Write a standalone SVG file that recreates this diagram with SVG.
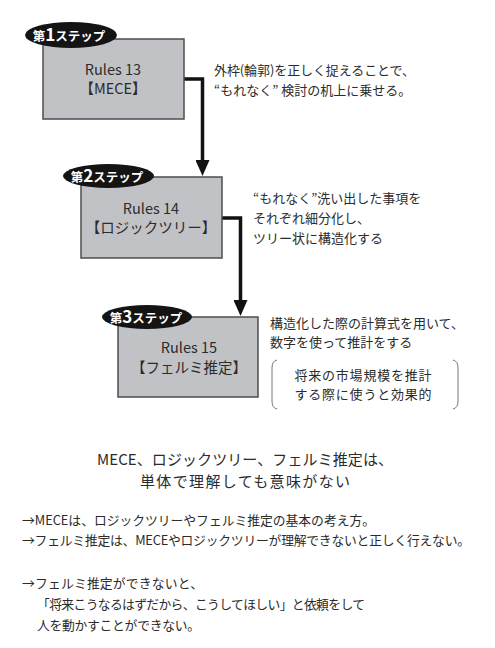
<svg xmlns="http://www.w3.org/2000/svg" width="495" height="648" viewBox="0 0 495 648">
<style>
text{font-family:"Noto Sans CJK JP","Noto Sans",sans-serif;fill:#2b2b2b}
.box{fill:#c1c2c6;stroke:#4d4d4d;stroke-width:1.5}
.badge{fill:#141414}
.bt{font-size:12.5px;fill:#fff;font-weight:bold}
.bn{font-size:17px;fill:#fff;font-weight:bold}
.nt{font-size:14.5px;text-anchor:middle}
.note{font-size:13px}
.pn{font-size:13px;text-anchor:middle}
.title{font-size:15px;text-anchor:middle}
.body{font-size:12.8px}
.conn{fill:none;stroke:#111;stroke-width:3.5}
.paren{fill:none;stroke:#777;stroke-width:1}
</style>
<defs>
<marker id="ah" markerUnits="userSpaceOnUse" markerWidth="16" markerHeight="14" refX="4" refY="7" orient="auto">
<path d="M0,0 L16,7 L0,14 z" fill="#111"/>
</marker>
</defs>
<rect width="495" height="648" fill="#fff"/>
<g id="connectors">
<path class="conn" d="M184,79 H202.5 V164" marker-end="url(#ah)"/>
<path class="conn" d="M222,218 H240.5 V304" marker-end="url(#ah)"/>
</g>
<g id="step1">
<rect class="box" x="43" y="39" width="141" height="80"/>
<ellipse class="badge" cx="71" cy="35" rx="46" ry="13"/>
<text x="69" y="40.5" text-anchor="middle"><tspan class="bt">第</tspan><tspan class="bn">1</tspan><tspan class="bt">ステップ</tspan></text>
<text class="nt" x="113" y="75">Rules 13</text>
<text class="nt" x="113" y="94">【MECE】</text>
</g>
<g id="step2">
<rect class="box" x="81" y="177" width="141" height="81"/>
<ellipse class="badge" cx="108.5" cy="176" rx="45.5" ry="12"/>
<text x="107" y="181.5" text-anchor="middle"><tspan class="bt">第</tspan><tspan class="bn">2</tspan><tspan class="bt">ステップ</tspan></text>
<text class="nt" x="151" y="214">Rules 14</text>
<text class="nt" x="151" y="233">【ロジックツリー】</text>
</g>
<g id="step3">
<rect class="box" x="118" y="317" width="140" height="80"/>
<ellipse class="badge" cx="147" cy="317" rx="45" ry="12"/>
<text x="146" y="322.5" text-anchor="middle"><tspan class="bt">第</tspan><tspan class="bn">3</tspan><tspan class="bt">ステップ</tspan></text>
<text class="nt" x="189" y="353">Rules 15</text>
<text class="nt" x="189" y="373">【フェルミ推定】</text>
</g>
<g id="note1">
<text class="note" x="214" y="75" textLength="201" lengthAdjust="spacing">外枠(輪郭)を正しく捉えることで、</text>
<text class="note" x="214" y="95">“もれなく” 検討の机上に乗せる。</text>
</g>
<g id="note2">
<text class="note" x="253" y="203">“もれなく”洗い出した事項を</text>
<text class="note" x="253" y="223">それぞれ細分化し、</text>
<text class="note" x="253" y="243">ツリー状に構造化する</text>
</g>
<g id="note3">
<text class="note" x="270" y="328">構造化した際の計算式を用いて、</text>
<text class="note" x="270" y="347">数字を使って推計をする</text>
<path class="paren" d="M277,360 Q272,361 272,368 V401 Q272,408 277,409"/>
<path class="paren" d="M453,360 Q458,361 458,368 V401 Q458,408 453,409"/>
<text class="pn" x="363" y="379.5" textLength="137" lengthAdjust="spacing">将来の市場規模を推計</text>
<text class="pn" x="363" y="398.5" textLength="137" lengthAdjust="spacing">する際に使うと効果的</text>
</g>
<g id="summary">
<text class="title" x="245" y="465" textLength="296" lengthAdjust="spacing">MECE、ロジックツリー、フェルミ推定は、</text>
<text class="title" x="245" y="487" textLength="210" lengthAdjust="spacing">単体で理解しても意味がない</text>
<text class="body" x="22" y="525" textLength="353" lengthAdjust="spacing">→MECEは、ロジックツリーやフェルミ推定の基本の考え方。</text>
<text class="body" x="22" y="545" textLength="448" lengthAdjust="spacing">→フェルミ推定は、MECEやロジックツリーが理解できないと正しく行えない。</text>
<text class="body" x="22" y="588" textLength="181" lengthAdjust="spacing">→フェルミ推定ができないと、</text>
<text class="body" x="37" y="609" textLength="328" lengthAdjust="spacing">「将来こうなるはずだから、こうしてほしい」と依頼をして</text>
<text class="body" x="37" y="630" textLength="163" lengthAdjust="spacing">人を動かすことができない。</text>
</g>
</svg>
